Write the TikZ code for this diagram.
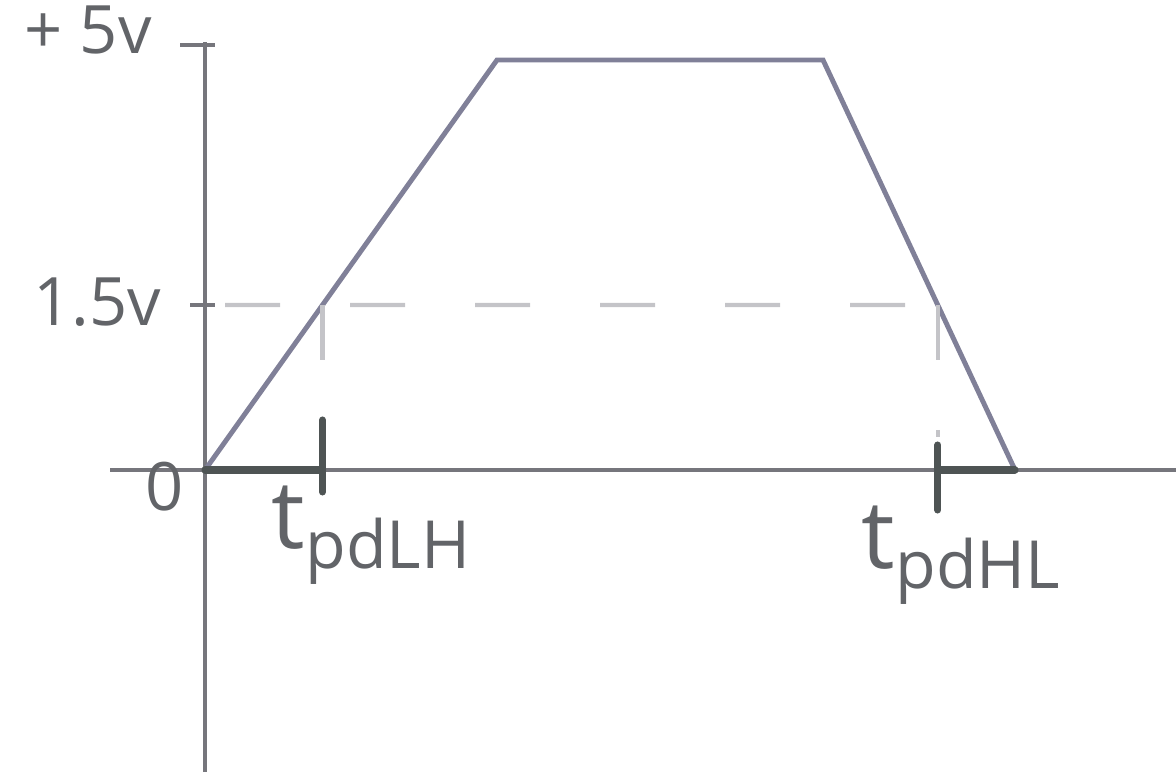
\documentclass[tikz,border=0pt]{standalone}
\usepackage{fontspec}
\setmainfont{Open Sans}
\usepackage{xcolor}
\usepackage{tikz}
\usetikzlibrary{calc, intersections}

\definecolor{pencil}{RGB}{118,118,124}
\definecolor{trace}{RGB}{128,128,152}
\definecolor{ink}{RGB}{98,100,104}
\definecolor{thickink}{RGB}{78,84,84}
\definecolor{faint}{RGB}{196,196,200}

\tikzset{
  lbl/.style={text=ink, font=\fontsize{19}{21}\selectfont, inner sep=0pt},
  tlbl/.style={text=ink, font=\fontsize{27}{29}\selectfont, inner sep=0pt},
  guide/.style={faint, line width=1.2pt, dash pattern=on 0.55cm off 0.7cm},
  marker/.style={thickink, line width=2pt, line cap=round}
}

\begin{document}
\begin{tikzpicture}
            \useasboundingbox (0,0) rectangle (11.76,7.77);

            % key points
            \coordinate (o) at (2.05,3.07);
            \coordinate (hiL) at (4.97,7.17);
            \coordinate (hiR) at (8.23,7.17);
            \coordinate (endR) at (10.15,3.07);

            % Draw axes
            \draw[pencil, line width=1.4pt] (2.05,0.05) -- (2.05,7.35);
            \draw[pencil, line width=1.4pt] (1.1,3.07) -- (11.76,3.07);

            % Axis ticks
            \draw[pencil, line width=1.4pt] (1.8,7.32) -- (2.15,7.32);
            \draw[pencil, line width=1.4pt] (1.9,4.72) -- (2.15,4.72);

            % Draw pulse
            \draw[trace, line width=1.4pt, name path=pulse] (o) -- (hiL) -- (hiR) -- (endR);

            % 1.5v level
            \path[name path=level] (2.1,4.72) -- (11,4.72);
            \path[name intersections={of=pulse and level, by={lh,hl}}];
            \draw[guide] (2.25,4.72) -- (hl);
            \draw[guide] (lh) -- (lh |- 0,3.6);
            \draw[guide] (hl) -- (hl |- 0,3.4);

            % delay markers
            \draw[marker] (o) -- (lh |- o);
            \draw[marker] ($(lh |- o)+(0,0.5)$) -- ($(lh |- o)+(0,-0.22)$);
            \draw[marker] (hl |- o) -- (endR);
            \draw[marker] ($(hl |- o)+(0,0.25)$) -- ($(hl |- o)+(0,-0.4)$);

            % Add labels
            \node[lbl] (vhigh) at (0.88,7.47) {+ 5v};
            \node[lbl] (vlevel) at (0.97,4.75) {1.5v};
            \node[lbl] (zero) at (1.65,2.9) {0};
            \node[tlbl] (tlh) at (3.72,2.42) {t\textsubscript{pdLH}};
            \node[tlbl] (thl) at (9.62,2.22) {t\textsubscript{pdHL}};
        \end{tikzpicture}
\end{document}
